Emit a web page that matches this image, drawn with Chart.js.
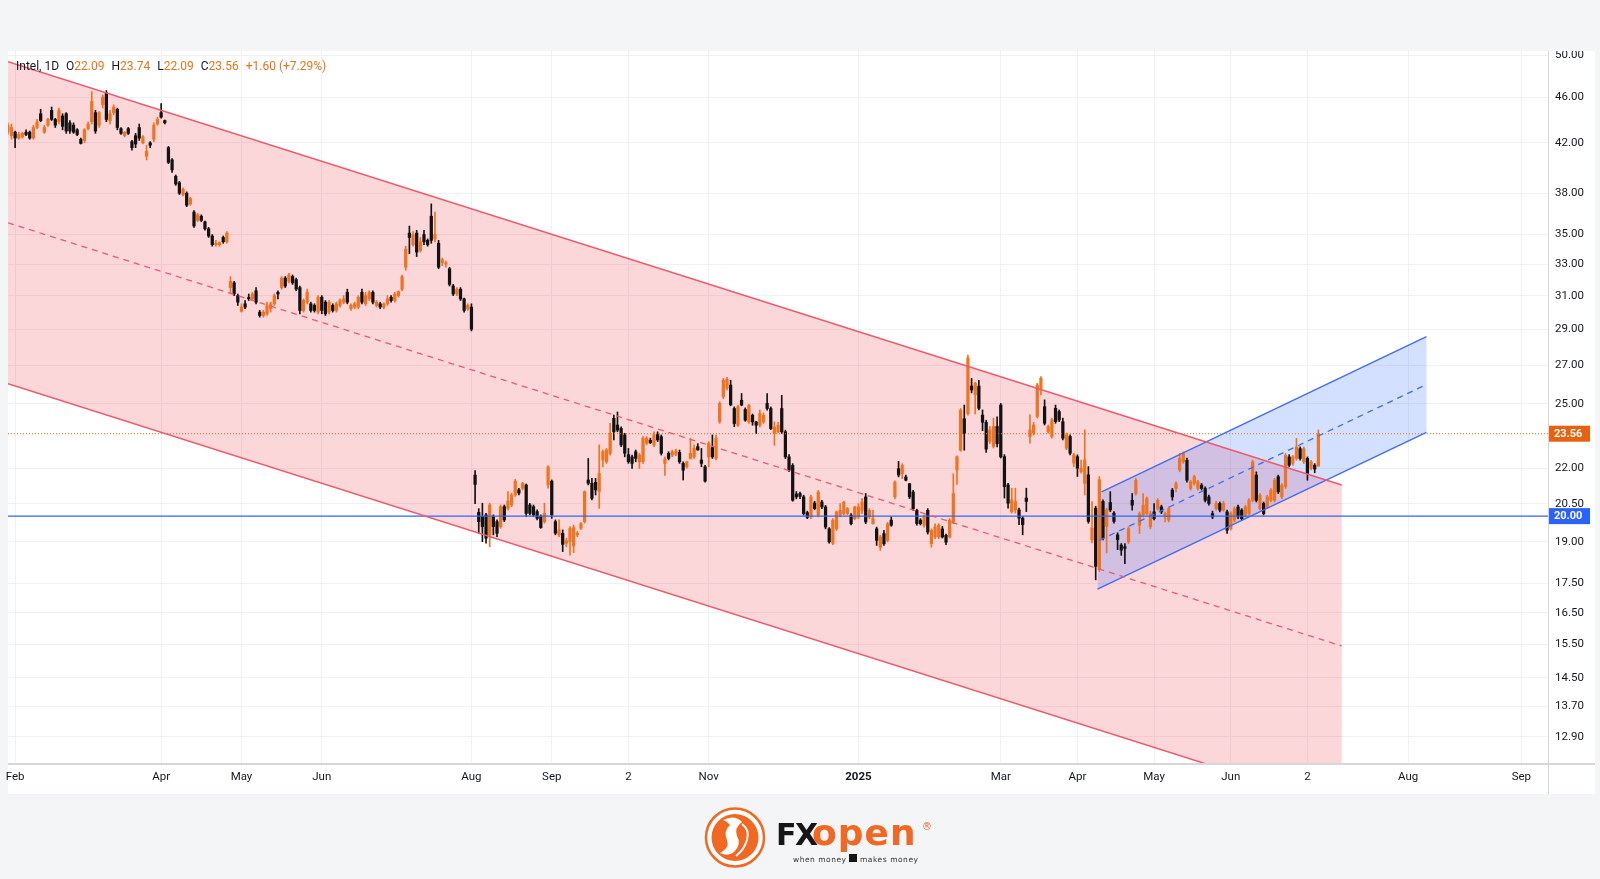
<!DOCTYPE html>
<html>
<head>
<meta charset="utf-8">
<script src="https://cdn.jsdelivr.net/npm/chart.js"></script>
<style>
  html, body { margin: 0; padding: 0; background: #f4f5f7; }
  #wrap { position: relative; width: 1600px; height: 879px; overflow: hidden; font-family: Roboto, "Noto Sans", sans-serif; }
  #panel { position: absolute; left: 8px; top: 50px; width: 1587px; height: 744px; background: #fff; }
  #topband { position: absolute; left: 0; top: 0; width: 1600px; height: 51px; background: #f4f5f7; z-index: 5; }
  #chart { position: absolute; left: 0; top: 0; z-index: 2; }
  #timeline { position: absolute; left: 8px; top: 763px; width: 1587px; height: 2px; background: #d5d7dc; z-index: 3; }
  #priceline { position: absolute; left: 1548px; top: 51px; width: 1px; height: 743px; background: #d5d7dc; z-index: 3; }
  #legend { position: absolute; left: 16px; top: 59px; font-size: 12px; line-height: 15px; color: #131722; z-index: 6; white-space: nowrap; }
  #legend .v { color: #e8731c; }
  #legend .g { margin-left: 7px; }
  #logo { position: absolute; left: 690px; top: 800px; z-index: 6; }
</style>
</head>
<body>
<div id="wrap">
  <div id="panel"></div>
  <canvas id="chart" width="1600" height="879"></canvas>
  <div id="topband"></div>
  <div id="timeline"></div>
  <div id="priceline"></div>
  <div id="legend"></div>
  <svg id="logo" width="260" height="79" viewBox="0 0 260 79">
    <circle cx="45" cy="37.5" r="29" fill="#fff" stroke="#f26722" stroke-width="2.5"/>
    <circle cx="45" cy="37.5" r="23.5" fill="#f26722"/>
    <path d="M33 20 Q45 14 52 22 Q44 28 47 36 Q52 44 44 52 Q38 57 30 53 Q40 48 37 40 Q33 31 40 25 Q37 21 33 20 Z" fill="#fff"/>
    <path d="M52 24 Q60 30 57 40 Q54 50 46 56" fill="none" stroke="#fff" stroke-width="2"/>
    <text x="86" y="45" font-family="DejaVu Sans" font-weight="bold" font-size="30" letter-spacing="-1.5" fill="#161616">FX</text>
    <text x="122" y="45" font-family="DejaVu Sans" font-weight="bold" font-size="36" letter-spacing="1" fill="#f26722">open</text>
    <text x="232" y="30" font-family="DejaVu Sans" font-size="10" fill="#f26722">®</text>
    <text x="103" y="62" font-family="DejaVu Sans" font-size="7.5" textLength="53" lengthAdjust="spacing" fill="#333">when money</text>
    <rect x="159" y="54" width="8" height="8" fill="#161616"/>
    <text x="170" y="62" font-family="DejaVu Sans" font-size="7.5" textLength="58" lengthAdjust="spacing" fill="#333">makes money</text>
  </svg>
</div>
<script>
// bar numbers: first candle sits two sessions before Feb 1 2024 (index 0)
var firstBar = -2;

var opens = [
  42.9, 42.6, 42.9, 42.4, 42.5, 42.9, 42.9, 42.4, 43.3, 44.5,
  42.9, 43.5, 44.8, 44.0, 43.8, 44.3, 44.5, 43.7, 43.5, 43.1,
  42.3, 42.2, 43.2, 43.8, 44.6, 43.5, 45.3, 46.4, 43.9, 44.6,
  44.9, 43.2, 42.6, 43.2, 42.1, 42.6, 43.3, 42.0, 40.9, 42.0,
  42.3, 43.6, 44.6, 43.9, 41.6, 40.6, 39.3, 38.8, 37.9, 38.0,
  37.2, 36.6, 36.0, 36.3, 35.9, 35.4, 34.9, 34.3, 34.3, 34.8,
  34.5, 31.5, 31.8, 31.0, 30.05, 30.5, 30.9, 30.8, 31.3, 30.0,
  29.8, 29.9, 30.2, 30.5, 31.2, 31.5, 32.1, 31.9, 32.2, 32.0,
  31.5, 30.1, 30.6, 30.5, 30.4, 30.0, 30.9, 30.6, 30.0, 30.4,
  30.1, 30.4, 30.6, 31.2, 30.2, 30.3, 30.3, 31.2, 30.5, 30.8,
  31.2, 30.4, 30.5, 30.3, 30.5, 30.9, 30.7, 31.0, 31.4, 32.8,
  35.1, 34.3, 35.1, 33.9, 35.0, 34.6, 36.3, 34.7, 34.4, 33.1,
  33.0, 32.7, 31.6, 31.1, 31.4, 30.8, 30.2, 30.3, 21.7, 20.15,
  19.98, 20.05, 19.27, 19.98, 19.78, 19.59, 20.38, 20.31, 20.45, 20.86,
  21.07, 21.14, 21.28, 20.45, 20.38, 20.18, 19.98, 19.78, 21.28, 21.44,
  19.78, 19.27, 19.33, 18.95, 19.01, 18.85, 19.27, 19.52, 19.78, 21.49,
  21.35, 21.39, 21.0, 22.36, 22.28, 22.66, 24.29, 23.97, 23.81, 23.5,
  22.6, 22.5, 22.73, 22.28, 22.28, 23.12, 23.25, 23.04, 23.52, 23.42,
  22.21, 22.66, 22.58, 22.62, 22.7, 22.21, 22.06, 22.43, 22.5, 22.96,
  22.36, 22.06, 22.5, 22.92, 22.43, 24.13, 25.35, 25.8, 25.95, 24.77,
  23.96, 25.18, 24.72, 24.12, 24.44, 24.12, 23.96, 24.12, 25.02, 24.77,
  23.57, 23.65, 24.77, 23.65, 22.5, 22.12, 20.9, 20.92, 20.78, 20.14,
  19.97, 20.53, 20.04, 20.57, 20.37, 19.5, 18.95, 19.5, 20.04, 20.1,
  20.1, 20.04, 19.9, 19.97, 20.23, 20.78, 19.97, 19.7, 19.5, 18.8,
  19.32, 19.06, 19.84, 20.78, 21.98, 21.76, 21.62, 21.33, 20.98, 20.23,
  19.84, 19.64, 20.23, 18.93, 19.19, 19.19, 19.5, 19.25, 19.19, 19.77,
  21.91, 22.8, 24.27, 24.52, 25.9, 25.45, 25.9, 24.45, 24.1, 23.2,
  22.97, 23.9, 24.94, 22.51, 21.28, 20.18, 20.25, 20.25, 19.92, 20.73,
  23.43, 23.59, 24.38, 25.7, 24.86, 23.66, 23.43, 24.78, 24.62, 24.13,
  22.89, 23.43, 22.22, 22.51, 21.85, 21.35, 21.71, 19.08, 20.32, 17.98,
  20.59, 19.59, 20.55, 20.12, 19.27, 18.88, 18.82, 19.0, 20.64, 20.92,
  19.64, 20.04, 20.1, 19.58, 20.17, 20.3, 20.37, 19.97, 19.84, 21.06,
  21.13, 21.92, 22.28, 22.35, 21.13, 21.34, 21.13, 21.27, 21.13, 20.78,
  20.1, 20.3, 20.51, 20.24, 20.17, 19.51, 19.84, 20.37, 20.24, 20.04,
  20.1, 20.64, 21.7, 20.3, 20.51, 20.37, 20.64, 20.64, 21.63, 20.78,
  21.2, 22.5, 22.21, 22.43, 22.87, 22.28, 22.43, 21.99, 22.13, 22.09
];
var highs = [
  43.7, 43.6, 43.0, 42.9, 42.9, 43.1, 43.0, 43.5, 44.0, 44.9,
  43.5, 44.1, 45.1, 44.1, 45.0, 44.5, 44.6, 43.9, 43.7, 43.2,
  42.4, 43.2, 43.8, 46.5, 44.8, 44.7, 46.2, 46.6, 44.8, 45.3,
  45.0, 43.3, 42.95, 43.3, 42.2, 42.8, 43.6, 42.6, 41.8, 42.1,
  43.7, 44.2, 45.4, 43.95, 41.7, 40.7, 39.4, 38.9, 38.4, 38.1,
  37.7, 36.7, 36.5, 36.4, 35.95, 35.5, 35.0, 34.6, 34.5, 34.9,
  35.2, 32.2, 31.9, 31.1, 30.5, 30.7, 31.1, 31.2, 31.5, 30.1,
  30.1, 30.6, 30.6, 31.1, 31.3, 32.2, 32.2, 32.4, 32.3, 32.1,
  31.6, 30.8, 31.4, 30.6, 30.5, 31.0, 31.0, 30.7, 30.7, 30.5,
  30.6, 30.8, 31.0, 31.4, 30.5, 30.6, 31.0, 31.4, 31.2, 31.3,
  31.3, 30.7, 30.6, 30.55, 31.0, 31.0, 31.2, 31.3, 32.3, 34.2,
  35.6, 35.2, 35.3, 34.8, 35.3, 34.7, 37.2, 36.6, 34.6, 33.4,
  33.2, 32.8, 31.7, 31.5, 31.5, 30.85, 30.5, 30.5, 21.9, 20.3,
  20.52, 20.11, 20.52, 20.05, 19.85, 20.45, 20.45, 21.0, 20.94, 21.52,
  21.14, 21.39, 21.32, 20.52, 20.45, 20.25, 20.05, 20.52, 22.1, 21.49,
  19.85, 19.85, 19.46, 19.14, 19.59, 19.65, 19.4, 19.75, 21.03, 22.43,
  21.56, 21.56, 23.04, 22.81, 22.88, 24.05, 24.45, 24.6, 23.89, 23.58,
  22.88, 22.58, 22.81, 22.66, 23.42, 23.42, 23.35, 23.65, 23.65, 23.5,
  22.5, 22.73, 22.8, 22.85, 22.81, 22.28, 22.3, 23.35, 23.04, 23.1,
  22.88, 22.13, 23.19, 23.5, 23.5, 25.1, 26.3, 26.35, 26.2, 24.85,
  24.93, 25.52, 24.8, 24.98, 24.5, 24.15, 24.69, 24.55, 25.52, 24.85,
  24.12, 24.1, 25.43, 23.73, 22.6, 22.2, 21.0, 20.98, 20.85, 20.2,
  20.85, 20.6, 21.05, 20.64, 20.43, 19.55, 19.9, 20.2, 20.5, 20.6,
  20.35, 20.1, 20.4, 20.5, 20.71, 20.92, 20.3, 20.23, 19.57, 19.25,
  19.44, 19.75, 19.97, 21.45, 22.3, 22.2, 21.7, 21.35, 21.05, 20.28,
  19.9, 20.04, 20.3, 19.5, 19.7, 19.7, 19.6, 19.3, 19.9, 21.76,
  22.55, 24.77, 24.94, 27.55, 26.3, 26.1, 26.2, 24.7, 24.2, 23.9,
  24.3, 24.36, 25.02, 22.6, 21.35, 21.14, 21.14, 20.32, 19.98, 21.14,
  24.46, 24.1, 26.04, 26.39, 25.2, 23.97, 24.3, 24.94, 24.7, 24.3,
  23.59, 23.51, 22.66, 22.59, 22.36, 23.74, 22.07, 20.59, 20.4, 21.64,
  20.66, 20.32, 21.0, 20.18, 19.35, 18.94, 18.94, 19.58, 20.92, 21.56,
  20.17, 20.92, 20.78, 20.2, 20.51, 20.71, 20.44, 20.17, 20.37, 21.13,
  21.41, 22.65, 22.72, 22.45, 21.48, 21.7, 21.48, 21.34, 21.2, 20.85,
  20.2, 20.6, 20.57, 20.6, 20.24, 20.17, 20.37, 20.44, 20.3, 20.44,
  20.71, 22.35, 21.84, 20.92, 20.57, 20.85, 21.13, 21.56, 21.7, 21.34,
  22.65, 22.6, 22.57, 23.34, 22.95, 22.95, 22.5, 22.35, 22.2, 23.74
];
var lows = [
  42.7, 42.3, 41.6, 42.3, 42.4, 42.6, 42.3, 42.3, 43.2, 43.8,
  42.8, 43.4, 43.9, 43.3, 43.6, 43.1, 42.8, 42.8, 42.8, 42.6,
  41.9, 42.0, 43.1, 43.6, 42.8, 43.3, 45.0, 43.8, 43.6, 44.4,
  43.1, 42.7, 42.5, 42.7, 41.4, 41.6, 42.2, 41.9, 40.6, 41.6,
  42.1, 43.5, 44.1, 43.6, 40.3, 39.6, 38.6, 37.9, 37.8, 37.0,
  37.1, 35.5, 35.9, 35.9, 35.3, 34.8, 34.2, 34.2, 34.2, 34.4,
  34.4, 31.1, 31.0, 30.4, 30.0, 30.2, 30.7, 30.7, 30.5, 29.7,
  29.7, 29.8, 30.0, 30.4, 30.8, 31.4, 31.5, 31.8, 31.7, 31.3,
  29.9, 30.0, 30.5, 30.0, 30.0, 29.9, 29.9, 29.8, 29.9, 30.0,
  30.0, 30.3, 30.5, 30.5, 30.1, 30.2, 30.2, 30.5, 30.4, 30.7,
  30.5, 30.3, 30.2, 30.2, 30.4, 30.6, 30.6, 30.9, 31.3, 32.6,
  33.7, 34.2, 33.5, 33.8, 34.3, 34.2, 34.4, 34.5, 32.7, 32.9,
  32.8, 31.6, 31.0, 31.0, 30.7, 30.0, 30.1, 28.9, 20.5, 19.33,
  19.01, 18.95, 18.82, 19.27, 19.2, 19.52, 19.78, 20.25, 20.38, 20.8,
  20.86, 21.07, 19.98, 20.05, 19.98, 19.85, 19.52, 19.72, 21.14, 19.91,
  19.27, 19.2, 18.64, 18.82, 18.51, 18.6, 19.2, 19.48, 19.72, 21.28,
  20.65, 20.86, 20.31, 22.06, 22.21, 22.58, 23.27, 23.65, 22.96, 22.5,
  22.21, 21.99, 22.28, 21.99, 22.21, 23.04, 23.1, 22.96, 23.19, 22.58,
  21.69, 22.36, 22.5, 22.55, 22.21, 21.49, 22.0, 22.4, 22.43, 22.8,
  22.06, 21.4, 22.06, 22.43, 22.36, 24.05, 25.25, 25.7, 24.9, 23.89,
  23.9, 24.9, 24.15, 24.05, 23.96, 23.57, 23.88, 24.05, 24.69, 23.75,
  23.02, 23.6, 23.57, 22.42, 21.85, 20.6, 20.7, 20.71, 20.04, 19.9,
  19.9, 20.25, 19.97, 20.3, 19.5, 18.95, 18.9, 19.44, 19.97, 20.05,
  20.05, 19.65, 19.85, 19.9, 20.1, 19.7, 19.9, 19.68, 18.87, 18.68,
  18.87, 19.0, 19.6, 20.7, 21.62, 21.55, 21.45, 20.71, 20.23, 19.64,
  19.65, 19.57, 19.3, 18.8, 19.12, 19.12, 19.15, 18.9, 19.15, 19.7,
  21.3, 22.75, 22.8, 24.45, 25.55, 24.5, 24.7, 23.7, 22.7, 23.1,
  22.9, 22.95, 22.45, 20.73, 20.32, 20.12, 20.12, 19.66, 19.27, 20.18,
  23.12, 23.5, 24.3, 25.45, 23.97, 23.59, 23.35, 24.05, 24.13, 23.27,
  22.82, 22.59, 22.07, 21.64, 21.78, 20.86, 19.72, 18.96, 17.62, 17.92,
  19.08, 18.59, 20.18, 19.72, 18.71, 18.5, 18.2, 18.94, 20.24, 20.85,
  19.32, 19.97, 20.04, 19.5, 19.85, 20.24, 20.1, 19.77, 19.77, 20.64,
  20.99, 21.84, 22.21, 21.4, 21.06, 21.27, 21.06, 21.06, 20.57, 20.44,
  19.9, 20.24, 20.17, 20.2, 19.32, 19.45, 19.77, 19.9, 19.84, 19.97,
  20.04, 20.57, 20.57, 20.24, 20.04, 20.3, 20.57, 20.57, 20.92, 20.71,
  21.13, 22.06, 22.13, 22.35, 22.35, 22.2, 21.48, 21.92, 21.8, 22.09
];
var closes = [
  43.5, 43.3, 42.4, 42.7, 42.8, 42.7, 42.4, 43.3, 43.8, 43.9,
  43.3, 44.0, 44.0, 43.5, 44.8, 43.4, 43.0, 43.0, 42.9, 42.7,
  41.95, 43.1, 43.6, 45.6, 43.0, 44.6, 46.0, 44.0, 44.5, 45.1,
  43.3, 42.8, 42.9, 42.8, 41.6, 41.9, 42.4, 42.5, 41.3, 41.8,
  43.5, 44.0, 44.2, 43.7, 40.4, 39.8, 38.7, 38.0, 38.3, 37.1,
  37.6, 35.6, 36.4, 36.0, 35.4, 34.9, 34.3, 34.4, 34.45, 34.5,
  35.1, 31.9, 31.1, 30.6, 30.3, 30.3, 30.8, 31.1, 30.6, 29.8,
  30.0, 30.4, 30.5, 31.0, 31.1, 32.1, 31.6, 32.3, 31.8, 31.4,
  30.1, 30.7, 31.2, 30.1, 30.1, 30.9, 30.1, 29.9, 30.6, 30.1,
  30.5, 30.7, 30.8, 30.6, 30.4, 30.5, 30.9, 30.6, 31.0, 31.2,
  30.6, 30.6, 30.3, 30.5, 30.8, 30.7, 31.1, 31.25, 32.2, 34.0,
  34.8, 35.0, 33.8, 34.5, 34.5, 34.3, 34.6, 35.0, 32.8, 33.3,
  33.1, 31.7, 31.1, 31.4, 30.8, 30.1, 30.4, 29.0, 21.3, 19.78,
  19.59, 19.14, 20.45, 19.59, 19.33, 20.38, 19.85, 20.61, 20.86, 21.44,
  20.94, 21.35, 20.11, 20.11, 20.05, 19.91, 19.55, 20.11, 22.06, 20.05,
  19.33, 19.46, 18.91, 19.05, 19.52, 19.55, 19.33, 19.7, 21.0, 21.35,
  20.72, 21.07, 21.77, 22.73, 22.81, 23.58, 23.65, 23.73, 23.04, 22.66,
  22.28, 22.21, 22.43, 22.58, 23.35, 23.35, 23.14, 23.52, 23.27, 22.66,
  22.4, 22.43, 22.73, 22.76, 22.28, 21.91, 22.28, 22.66, 22.88, 22.81,
  22.21, 21.44, 23.12, 22.5, 23.35, 25.02, 26.2, 26.25, 24.95, 24.04,
  24.85, 24.94, 24.2, 24.93, 24.12, 23.96, 24.52, 24.44, 24.77, 23.8,
  23.88, 23.96, 23.65, 22.5, 21.91, 20.64, 20.78, 20.8, 20.1, 19.95,
  20.78, 20.3, 20.98, 20.37, 19.57, 19.0, 19.84, 20.17, 20.23, 20.57,
  20.3, 19.7, 20.37, 20.37, 20.57, 19.77, 20.23, 19.9, 19.06, 19.19,
  18.93, 19.7, 19.64, 21.4, 21.7, 22.12, 21.48, 20.78, 20.3, 19.7,
  19.7, 19.97, 19.38, 19.44, 19.57, 19.64, 19.19, 18.99, 19.84, 20.92,
  22.5, 24.69, 23.57, 27.39, 25.7, 26.05, 24.78, 24.1, 22.85, 23.74,
  23.9, 23.1, 22.5, 21.21, 20.52, 20.66, 20.59, 19.92, 19.66, 20.59,
  23.74, 23.97, 25.95, 26.3, 24.05, 23.9, 24.21, 24.13, 24.21, 23.35,
  23.51, 22.66, 22.59, 22.0, 22.0, 22.36, 19.79, 19.53, 18.1, 21.5,
  19.14, 20.25, 20.25, 19.79, 19.08, 18.69, 18.76, 19.51, 20.44, 21.48,
  20.1, 20.44, 20.71, 20.1, 19.9, 20.64, 20.17, 20.1, 20.3, 20.78,
  21.34, 22.43, 22.65, 21.48, 21.41, 21.63, 21.41, 21.13, 20.64, 20.51,
  19.97, 20.51, 20.24, 20.51, 19.45, 20.1, 20.3, 19.97, 19.9, 20.37,
  20.64, 22.28, 20.64, 20.85, 20.1, 20.78, 21.06, 21.48, 20.99, 21.27,
  22.57, 22.13, 22.5, 22.95, 22.43, 22.87, 21.77, 22.28, 21.96, 23.56
];

// time axis: bar number of each label and its text
var tickIdx = [0, 40, 62, 84, 125, 147, 168, 190, 231, 270, 291, 312, 333, 354, 381.6, 412.6];
var tickText = ['Feb', 'Apr', 'May', 'Jun', 'Aug', 'Sep', '2', 'Nov', '2025', 'Mar', 'Apr', 'May', 'Jun', '2', 'Aug', 'Sep'];
var yTicks = [50, 46, 42, 38, 35, 33, 31, 29, 27, 25, 22, 20.5, 19, 17.5, 16.5, 15.5, 14.5, 13.7, 12.9];

// drawn channels, [bar, price] anchors
var redUpper = [[-1.95, 49.35], [363.4, 21.28]];
var redMid = [[-1.95, 35.83], [363.4, 15.45]];
var redLower = [[-1.95, 26.02], [363.4, 11.22]];
var blueUpper = [[297.6, 20.99], [386.6, 28.57]];
var blueMid = [[297.0, 19.06], [386.6, 25.98]];
var blueLower = [[296.5, 17.30], [386.6, 23.62]];
var supportLevel = 20.0;

var xMin = -1.95, xMax = 419.9;
var yMin = 12.22, yMax = 50.41;

var UP = '#f0731f', DOWN = '#121212';
var gridColor = '#eff1f4';

var last = closes.length - 1;
var change = closes[last] - closes[last - 1];

document.getElementById('legend').innerHTML =
  '<span>Intel, 1D</span>' +
  '<span class="g">O</span><span class="v">' + opens[last].toFixed(2) + '</span>' +
  '<span class="g">H</span><span class="v">' + highs[last].toFixed(2) + '</span>' +
  '<span class="g">L</span><span class="v">' + lows[last].toFixed(2) + '</span>' +
  '<span class="g">C</span><span class="v">' + closes[last].toFixed(2) + '</span>' +
  '<span class="g v">+' + change.toFixed(2) + ' (+' + (change / closes[last - 1] * 100).toFixed(2) + '%)</span>';

var wicks = [], bodies = [], colors = [];
for (var k = 0; k < closes.length; k++) {
  wicks.push({ x: firstBar + k, y: [lows[k], highs[k]] });
  bodies.push({ x: firstBar + k, y: [opens[k], closes[k]] });
  colors.push(closes[k] >= opens[k] ? UP : DOWN);
}

function pts(arr) {
  return arr.map(function (p) { return { x: p[0], y: p[1] }; });
}

function lineSet(arr, color, width, dash) {
  return {
    type: 'line', data: pts(arr), borderColor: color, borderWidth: width,
    borderDash: dash || [], pointRadius: 0, fill: false, tension: 0, order: 0
  };
}

var overlays = {
  id: 'overlays',
  beforeDatasetsDraw: function (chart) {
    var ctx = chart.ctx, a = chart.chartArea, x = chart.scales.x, y = chart.scales.y;
    function poly(list, color) {
      ctx.beginPath();
      list.forEach(function (p, i) {
        var px = x.getPixelForValue(p[0]), py = y.getPixelForValue(p[1]);
        if (i) ctx.lineTo(px, py); else ctx.moveTo(px, py);
      });
      ctx.closePath();
      ctx.fillStyle = color;
      ctx.fill();
    }
    ctx.save();
    ctx.beginPath();
    ctx.rect(a.left, a.top, a.right - a.left, a.bottom - a.top);
    ctx.clip();
    poly([redUpper[0], redUpper[1], redLower[1], redLower[0]], 'rgba(242, 54, 69, 0.2)');
    poly([blueUpper[0], blueUpper[1], blueLower[1], blueLower[0]], 'rgba(41, 98, 255, 0.2)');
    ctx.restore();
  },
  afterDraw: function (chart) {
    var ctx = chart.ctx, a = chart.chartArea, y = chart.scales.y;
    function tag(val, bg) {
      var py = y.getPixelForValue(val);
      ctx.fillStyle = bg;
      ctx.fillRect(a.right, py - 8, 42, 16);
      ctx.fillStyle = '#fff';
      ctx.font = 'bold 11px Roboto';
      ctx.textBaseline = 'middle';
      ctx.textAlign = 'left';
      ctx.fillText(val.toFixed(2), a.right + 6, py + 0.5);
    }
    ctx.save();
    tag(closes[last], '#e8610f');
    tag(supportLevel, '#2962ff');
    ctx.restore();
  }
};

new Chart(document.getElementById('chart'), {
  type: 'bar',
  data: {
    datasets: [
      lineSet(redUpper, '#ee5a6a', 1.5),
      lineSet(redMid, '#ee5a6a', 1.3, [6, 5]),
      lineSet(redLower, '#ee5a6a', 1.5),
      lineSet(blueUpper, '#3f6cf0', 1.3),
      lineSet(blueMid, '#3f6cf0', 1.3, [6, 5]),
      lineSet(blueLower, '#3f6cf0', 1.3),
      lineSet([[xMin, supportLevel], [xMax, supportLevel]], '#2f66f5', 1.3),
      lineSet([[xMin, closes[last]], [xMax, closes[last]]], '#ec6a12', 1, [1, 2]),
      { data: bodies, backgroundColor: colors, barThickness: 2.6, minBarLength: 1, grouped: false, order: 1 },
      { data: wicks, backgroundColor: colors, barThickness: 1, grouped: false, order: 2 }
    ]
  },
  options: {
    responsive: false,
    animation: false,
    events: [],
    layout: { padding: { left: 8, top: 51, right: 5, bottom: 85 } },
    plugins: { legend: { display: false }, tooltip: { enabled: false } },
    scales: {
      x: {
        type: 'linear', min: xMin, max: xMax, offset: false,
        grid: { color: gridColor, drawTicks: false, offset: false },
        border: { display: false },
        afterBuildTicks: function (s) { s.ticks = tickIdx.map(function (v) { return { value: v }; }); },
        afterFit: function (s) { s.height = 30; s.paddingLeft = 0; s.paddingRight = 0; },
        ticks: {
          autoSkip: false, maxRotation: 0, padding: 6, color: '#131722',
          font: function (c) {
            return { family: 'Roboto', size: 11.5, weight: c.tick && c.tick.value === 231 ? 'bold' : 'normal' };
          },
          callback: function (v, i) { return tickText[i]; }
        }
      },
      y: {
        type: 'logarithmic', position: 'right', min: yMin, max: yMax,
        grid: { color: gridColor, drawTicks: false },
        border: { display: false },
        afterBuildTicks: function (s) { s.ticks = yTicks.map(function (v) { return { value: v }; }); },
        afterFit: function (s) { s.width = 47; s.paddingTop = 0; s.paddingBottom = 0; },
        ticks: {
          autoSkip: false, padding: 7, color: '#131722',
          font: { family: 'Roboto', size: 11.5 },
          callback: function (v) { return Number(v).toFixed(2); }
        }
      }
    }
  },
  plugins: [overlays]
});
</script>
</body>
</html>
